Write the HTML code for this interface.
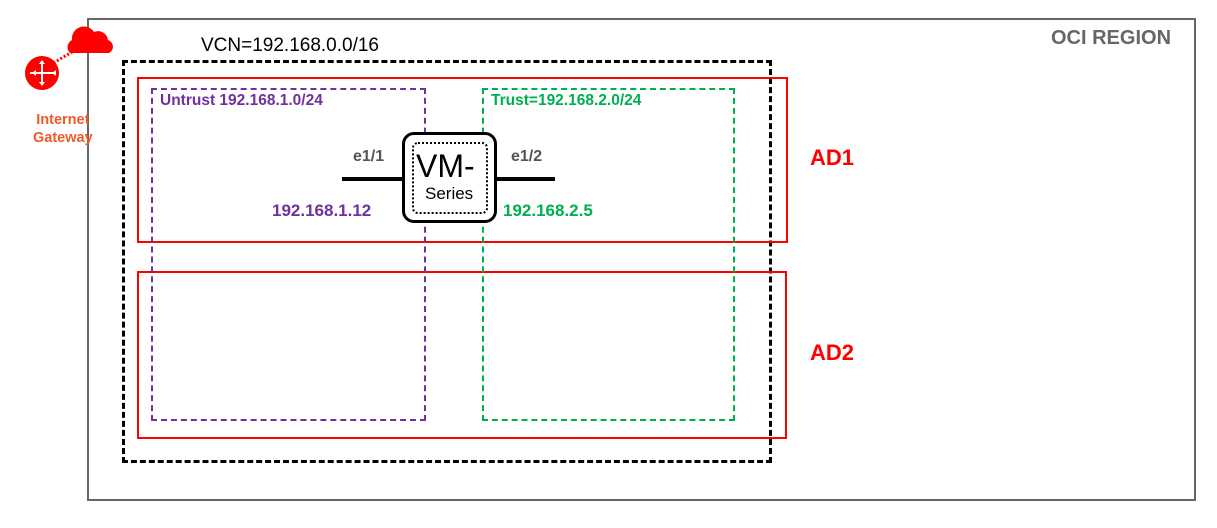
<!DOCTYPE html>
<html><head><style>
body{margin:0;width:1217px;height:528px;background:#fff;position:relative;overflow:hidden;font-family:"Liberation Sans",sans-serif}
.a{position:absolute;box-sizing:border-box}
.t{position:absolute;font-weight:bold;white-space:nowrap}
</style></head><body>
<div class="a" style="left:87px;top:18px;width:1109px;height:483px;border:2px solid #666"></div>
<div class="t" style="left:1051px;top:27px;font-size:20px;color:#666">OCI REGION</div>
<div class="a" style="left:122px;top:60px;width:650px;height:403px;border:3px dashed #000"></div>
<div class="t" style="left:201px;top:35px;font-size:19px;color:#000;font-weight:normal">VCN=192.168.0.0/16</div>
<div class="a" style="left:137px;top:77px;width:651px;height:166px;border:2px solid #f00"></div>
<div class="a" style="left:137px;top:271px;width:650px;height:168px;border:2px solid #f00"></div>
<div class="a" style="left:151px;top:88px;width:275px;height:333px;border:2px dashed #7030a0"></div>
<div class="a" style="left:482px;top:88px;width:253px;height:333px;border:2px dashed #00b050"></div>
<div class="t" style="left:160px;top:92px;font-size:15.5px;color:#7030a0">Untrust 192.168.1.0/24</div>
<div class="t" style="left:491px;top:92px;font-size:15.5px;color:#00b050">Trust=192.168.2.0/24</div>
<div class="t" style="left:810px;top:145px;font-size:22px;color:#f00">AD1</div>
<div class="t" style="left:810px;top:340px;font-size:22px;color:#f00">AD2</div>
<div class="a" style="left:342px;top:177px;width:62px;height:4px;background:#000"></div>
<div class="a" style="left:495px;top:177px;width:60px;height:4px;background:#000"></div>
<div class="a" style="left:402px;top:132px;width:95px;height:91px;border:3px solid #000;border-radius:12px;background:#fff"></div>
<div class="a" style="left:412px;top:142px;width:76px;height:72px;border:2px dotted #000;border-radius:6px"></div>
<div class="t" style="left:416px;top:148px;font-size:32px;font-weight:normal;color:#000">VM-</div>
<div class="t" style="left:425px;top:184px;font-size:17px;font-weight:normal;color:#000">Series</div>
<div class="t" style="left:353px;top:148px;font-size:16px;color:#555">e1/1</div>
<div class="t" style="left:511px;top:148px;font-size:16px;color:#555">e1/2</div>
<div class="t" style="left:272px;top:201px;font-size:17px;color:#7030a0">192.168.1.12</div>
<div class="t" style="left:503px;top:201px;font-size:17px;color:#00b050">192.168.2.5</div>
<svg class="a" style="left:20px;top:25px" width="100" height="80">
<line x1="30" y1="40" x2="52" y2="27" stroke="#f00" stroke-width="3" stroke-dasharray="2,2"/>
<circle cx="22" cy="48" r="17" fill="#f00"/>
<path d="M22 36v24M10 48h24" stroke="#fff" stroke-width="2"/>
<path d="M22 35l-3 4h6zM22 61l-3-4h6zM12 48l4-3v6zM32 48l4-3v6z" fill="#fff"/>
<path d="M50 28a8 8 0 0 1 2-13a12 12 0 0 1 22-8a10 10 0 0 1 14 8a7 7 0 0 1 1 13z" fill="#f00"/>
</svg>
<div class="t" style="left:33px;top:111px;font-size:14.5px;color:#f05a28;text-align:center;line-height:18px">Internet<br>Gateway</div>
</body></html>
